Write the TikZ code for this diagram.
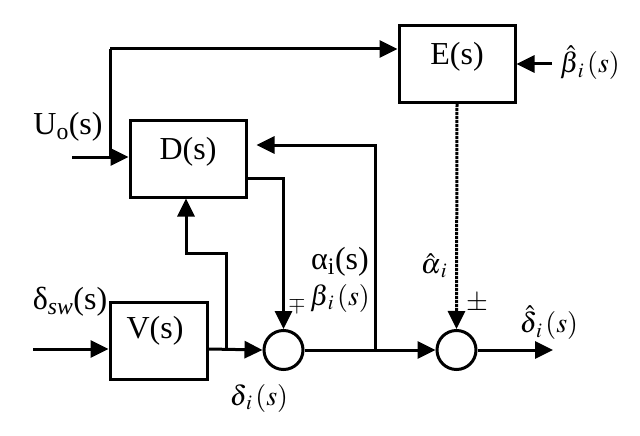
\documentclass[tikz,border=0pt]{standalone}
\usepackage{amsmath}
\usepackage{mathptmx}
\usepackage{fontspec}
\setmainfont{Liberation Serif}
\usepackage{tikz}
\usetikzlibrary{calc,arrows.meta}

\tikzset{
  block/.style={draw,line width=3pt,minimum width=#1,minimum height=77pt,inner sep=0pt},
  sumnode/.style={draw,circle,line width=3pt,minimum size=39pt,inner sep=0pt},
  sig/.style={line width=3pt},
  arr/.style={sig,-{Triangle[length=18pt,width=17pt]}},
  lbl/.style={font=\fontsize{32}{36}\selectfont,inner sep=0pt}
}

\begin{document}
\begin{tikzpicture}[x=1pt,y=-1pt]
            \useasboundingbox (0,0) rectangle (640,436);

            % Draw blocks
            \node [block=116pt] (E) at (457,64) {};
            \node [block=116pt] (D) at (188,158.5) {};
            \node [block=97pt]  (V) at (158.5,340.5) {};
            \node [lbl] at (457,57) {E(s)};
            \node [lbl] at (188,152) {D(s)};
            \node [lbl] at (155,331) {V(s)};

            % Draw summing points
            \node [sumnode] (S1) at (283.5,350) {};
            \node [sumnode] (S2) at (456.5,350) {};

            % Free ends and branch points
            \coordinate (uin)  at (72,157);
            \coordinate (usplit) at (110,157);
            \coordinate (top)  at (110,49);
            \coordinate (bin)  at (552,64);
            \coordinate (vin)  at (33,349);
            \coordinate (vsplit) at (226,349);
            \coordinate (jog)  at (186,253);
            \coordinate (dout) at (283.5,178);
            \coordinate (asplit) at (375,350);
            \coordinate (afb)  at (375,145);
            \coordinate (out)  at (553,350);

            % Inputs
            \draw [arr] (uin) -- (uin -| D.west);
            \draw [sig] (usplit) -- (top);
            \draw [arr] (top) -- (top -| E.west);
            \draw [arr] (bin) -- (E.east);
            \draw [arr] (vin) -- (vin -| V.west);

            % Signal paths
            \draw [arr] (vin -| V.east) -- (S1.west);
            \draw [arr] (vsplit) |- (jog) -- (jog |- D.south);
            \draw [arr] (D.east |- dout) -- (dout) -- (S1.north);
            \draw [arr] (S1.east) -- (S2.west);
            \draw [arr] (asplit) -- (afb) -- ($(afb -| D.east)+(9,0)$);
            \draw [arr,densely dotted] (E.south) -- (S2.north);
            \draw [arr] (S2.east) -- (out);

            % Label signals
            \node [lbl] at (68,127) {U\textsubscript{o}(s)};
            \node [lbl] at (70,302) {δ\textsubscript{\itshape sw}(s)};
            \node [lbl] at (340,262) {α\textsubscript{i}(s)};
            \node [lbl,font=\fontsize{28}{32}\selectfont] at (340,298) {$\beta_{\,i}\,(s)$};
            \node [lbl,font=\fontsize{28}{32}\selectfont] at (590,63) {$\hat{\beta}_{\,i}\,(s)$};
            \node [lbl,font=\fontsize{28}{32}\selectfont] at (434,266) {$\hat{\alpha}_{\,i}$};
            \node [lbl,font=\fontsize{28}{32}\selectfont] at (259,398) {$\delta_{\,i}\,(s)$};
            \node [lbl,font=\fontsize{28}{32}\selectfont] at (549,323) {$\hat{\delta}_{\,i}\,(s)$};
            \node [lbl,font=\fontsize{22}{24}\selectfont] at (297,305) {$\mp$};
            \node [lbl,font=\fontsize{28}{30}\selectfont] at (477,303) {$\pm$};

        \end{tikzpicture}
\end{document}
